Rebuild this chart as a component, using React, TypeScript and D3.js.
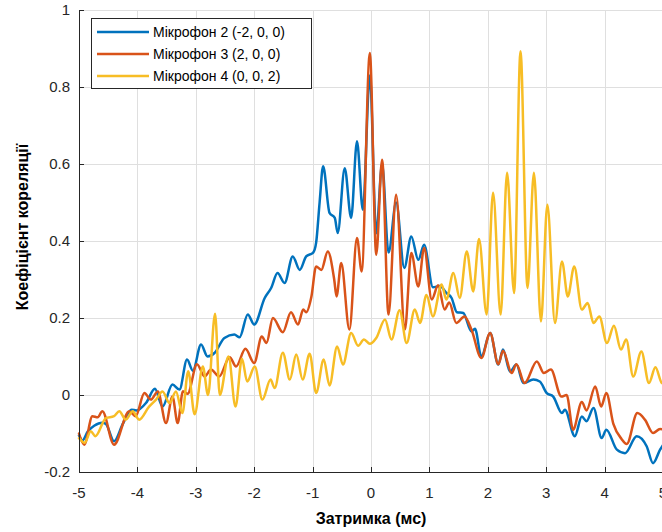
import React from "react";
import * as d3 from "d3";

const xTicks = [-5, -4, -3, -2, -1, 0, 1, 2, 3, 4, 5];
const yTicks = [-0.2, 0, 0.2, 0.4, 0.6, 0.8, 1];
const seriesNames = ["Мікрофон 2 (-2, 0, 0)", "Мікрофон 3 (2, 0, 0)", "Мікрофон 4 (0, 0, 2)"];
const seriesColors = ["#0072BD", "#D95319", "#F7BD25"];

const mic2: [number, number][] = [
  [-5.0, -0.105], [-4.94, -0.118], [-4.85, -0.095], [-4.74, -0.08], [-4.6, -0.072], [-4.54, -0.075],
  [-4.4, -0.12], [-4.25, -0.075], [-4.1, -0.038], [-4.02, -0.04], [-3.85, -0.02], [-3.7, 0.016],
  [-3.57, -0.03], [-3.4, 0.027], [-3.28, 0.014], [-3.15, 0.092], [-3.05, 0.063], [-2.91, 0.131],
  [-2.8, 0.1], [-2.68, 0.109], [-2.51, 0.148], [-2.34, 0.157], [-2.25, 0.15], [-2.11, 0.209],
  [-2.0, 0.183], [-1.82, 0.252], [-1.71, 0.278], [-1.6, 0.317], [-1.48, 0.291], [-1.34, 0.36],
  [-1.22, 0.325], [-1.11, 0.36], [-0.99, 0.37], [-0.94, 0.395], [-0.88, 0.5], [-0.82, 0.594],
  [-0.71, 0.473], [-0.62, 0.46], [-0.57, 0.421], [-0.45, 0.589], [-0.34, 0.46], [-0.24, 0.659],
  [-0.14, 0.481], [-0.02, 0.83], [0.09, 0.42], [0.19, 0.6], [0.3, 0.37], [0.43, 0.5], [0.57, 0.33],
  [0.69, 0.412], [0.81, 0.351], [0.91, 0.39], [1.06, 0.28], [1.18, 0.283], [1.29, 0.265],
  [1.38, 0.252], [1.47, 0.215], [1.58, 0.213], [1.72, 0.165], [1.78, 0.172], [1.89, 0.1],
  [2.04, 0.161], [2.18, 0.079], [2.26, 0.118], [2.38, 0.061], [2.49, 0.079], [2.61, 0.031],
  [2.78, 0.04], [2.89, 0.035], [3.01, 0.005], [3.12, -0.004], [3.27, -0.047], [3.32, -0.038],
  [3.49, -0.107], [3.61, -0.056], [3.69, -0.068], [3.81, -0.034], [3.95, -0.112], [4.03, -0.09],
  [4.21, -0.142], [4.35, -0.151], [4.55, -0.107], [4.72, -0.133], [4.83, -0.177], [4.95, -0.142],
  [5.0, -0.13],
];

const mic3: [number, number][] = [
  [-5.0, -0.1], [-4.91, -0.129], [-4.77, -0.055], [-4.68, -0.058], [-4.6, -0.042], [-4.4, -0.129],
  [-4.14, -0.042], [-4.03, -0.055], [-3.88, 0.005], [-3.77, -0.012], [-3.65, 0.009], [-3.51, -0.073],
  [-3.4, -0.004], [-3.31, -0.073], [-3.22, 0.01], [-3.14, 0.003], [-2.98, 0.08], [-2.85, 0.048],
  [-2.74, 0.066], [-2.6, 0.048], [-2.42, 0.098], [-2.31, 0.074], [-2.15, 0.12], [-2.0, 0.083],
  [-1.87, 0.152], [-1.79, 0.135], [-1.68, 0.2], [-1.51, 0.163], [-1.37, 0.215], [-1.25, 0.183],
  [-1.16, 0.222], [-1.11, 0.215], [-1.02, 0.256], [-0.94, 0.334], [-0.85, 0.325], [-0.74, 0.373],
  [-0.63, 0.3], [-0.59, 0.256], [-0.51, 0.343], [-0.37, 0.17], [-0.24, 0.408], [-0.16, 0.321],
  [-0.02, 0.888], [0.09, 0.364], [0.19, 0.611], [0.3, 0.209], [0.43, 0.52], [0.58, 0.17],
  [0.69, 0.369], [0.81, 0.282], [0.91, 0.382], [1.04, 0.248], [1.15, 0.285], [1.26, 0.222],
  [1.34, 0.24], [1.46, 0.187], [1.6, 0.204], [1.72, 0.17], [1.89, 0.096], [2.04, 0.161],
  [2.18, 0.08], [2.26, 0.115], [2.41, 0.057], [2.49, 0.08], [2.63, 0.031], [2.84, 0.087],
  [2.96, 0.057], [3.08, 0.066], [3.26, -0.004], [3.35, 0.0], [3.46, -0.09], [3.61, -0.018],
  [3.69, -0.04], [3.84, 0.022], [3.94, -0.03], [4.03, 0.005], [4.15, -0.075], [4.29, -0.114],
  [4.38, -0.127], [4.56, -0.047], [4.69, -0.064], [4.83, -0.099], [4.95, -0.088], [5.0, -0.09],
];

const mic4: [number, number][] = [
  [-5.0, -0.112], [-4.9, -0.124], [-4.8, -0.094], [-4.72, -0.107], [-4.54, -0.06], [-4.4, -0.055],
  [-4.31, -0.042], [-4.2, -0.064], [-4.08, -0.042], [-3.97, -0.064], [-3.8, -0.03], [-3.68, -0.012],
  [-3.57, 0.009], [-3.45, -0.021], [-3.34, 0.009], [-3.23, -0.047], [-3.13, 0.062], [-3.02, -0.05],
  [-2.88, 0.074], [-2.79, 0.0], [-2.67, 0.211], [-2.59, 0.0], [-2.44, 0.1], [-2.32, -0.03],
  [-2.21, 0.094], [-2.12, 0.035], [-1.99, 0.074], [-1.86, -0.012], [-1.72, 0.04], [-1.65, 0.018],
  [-1.51, 0.11], [-1.39, 0.04], [-1.28, 0.105], [-1.17, 0.04], [-1.05, 0.107], [-0.94, 0.005],
  [-0.81, 0.092], [-0.71, 0.025], [-0.58, 0.126], [-0.48, 0.079], [-0.34, 0.161], [-0.22, 0.128],
  [-0.12, 0.144], [-0.02, 0.133], [0.09, 0.148], [0.24, 0.196], [0.35, 0.144], [0.49, 0.22],
  [0.61, 0.135], [0.75, 0.222], [0.84, 0.187], [0.95, 0.26], [1.06, 0.204], [1.21, 0.287],
  [1.29, 0.248], [1.41, 0.317], [1.52, 0.252], [1.64, 0.373], [1.75, 0.269], [1.85, 0.405],
  [1.98, 0.209], [2.09, 0.525], [2.22, 0.209], [2.33, 0.577], [2.45, 0.265], [2.56, 0.893],
  [2.68, 0.278], [2.79, 0.577], [2.91, 0.191], [3.02, 0.494], [3.15, 0.187], [3.27, 0.347],
  [3.37, 0.256], [3.48, 0.334], [3.61, 0.222], [3.71, 0.239], [3.81, 0.187], [3.91, 0.204],
  [4.04, 0.135], [4.16, 0.18], [4.28, 0.118], [4.37, 0.144], [4.49, 0.048], [4.63, 0.113],
  [4.76, 0.031], [4.87, 0.072], [4.98, 0.031], [5.0, 0.03],
];

const allSeries = [mic2, mic3, mic4];

const W = 662;
const H = 532;
const left = 79;
const right = 663;
const top = 10;
const bottom = 472;

export default function App() {
  const x = d3.scaleLinear().domain([-5, 5]).range([left, right]);
  const y = d3.scaleLinear().domain([-0.2, 1]).range([bottom, top]);
  const line = d3
    .line<[number, number]>()
    .x((d) => x(d[0]))
    .y((d) => y(d[1]))
    .curve(d3.curveMonotoneX);

  const font = "'Liberation Sans', Arial, Helvetica, sans-serif";
  const axisColor = "#262626";

  return (
    <svg
      width={W}
      height={H}
      style={{ position: "absolute", left: 0, top: 0, background: "#fff" }}
      fontFamily={font}
    >
      <rect x={0} y={0} width={W} height={H} fill="#fff" />
      <g stroke="#dfdfdf" strokeWidth={1}>
        {xTicks.map((t) => (
          <line key={"gx" + t} x1={Math.round(x(t)) + 0.5} x2={Math.round(x(t)) + 0.5} y1={top} y2={bottom} />
        ))}
        {yTicks.map((t) => (
          <line key={"gy" + t} x1={left} x2={right} y1={Math.round(y(t)) + 0.5} y2={Math.round(y(t)) + 0.5} />
        ))}
      </g>
      <g fill="none" strokeWidth={2.5} strokeLinejoin="round" strokeLinecap="round">
        {allSeries.map((s, i) => (
          <path key={i} d={line(s) || ""} stroke={seriesColors[i]} />
        ))}
      </g>
      <g stroke={axisColor} strokeWidth={1}>
        <line x1={left + 0.5} x2={left + 0.5} y1={top} y2={bottom + 0.5} />
        <line x1={left} x2={right} y1={bottom + 0.5} y2={bottom + 0.5} />
        {xTicks.map((t) => (
          <line key={"tx" + t} x1={Math.round(x(t)) + 0.5} x2={Math.round(x(t)) + 0.5} y1={bottom} y2={bottom - 5} />
        ))}
        {yTicks.map((t) => (
          <line key={"ty" + t} x1={left} x2={left + 5} y1={Math.round(y(t)) + 0.5} y2={Math.round(y(t)) + 0.5} />
        ))}
      </g>
      <g fill={axisColor} fontSize={15}>
        {xTicks.map((t) => (
          <text key={"lx" + t} x={x(t)} y={498} textAnchor="middle">
            {t}
          </text>
        ))}
        {yTicks.map((t) => (
          <text key={"ly" + t} x={70} y={y(t)} dy="0.35em" textAnchor="end">
            {t}
          </text>
        ))}
      </g>
      <text x={x(0)} y={524} textAnchor="middle" fontSize={16} fontWeight="bold" fill="#000">
        Затримка (мс)
      </text>
      <text
        transform={`translate(28, ${(top + bottom) / 2 - 14}) rotate(-90)`}
        textAnchor="middle"
        fontSize={16}
        fontWeight="bold"
        fill="#000"
      >
        Коефіцієнт кореляції
      </text>
      <g>
        <rect x={91.5} y={18.5} width={220} height={70} fill="#fff" stroke={axisColor} strokeWidth={1} />
        {seriesNames.map((n, i) => (
          <g key={n}>
            <line x1={97} x2={149} y1={32 + i * 22} y2={32 + i * 22} stroke={seriesColors[i]} strokeWidth={2.5} />
            <text x={153} y={32 + i * 22} dy="0.35em" fontSize={14} fill="#000">
              {n}
            </text>
          </g>
        ))}
      </g>
    </svg>
  );
}
